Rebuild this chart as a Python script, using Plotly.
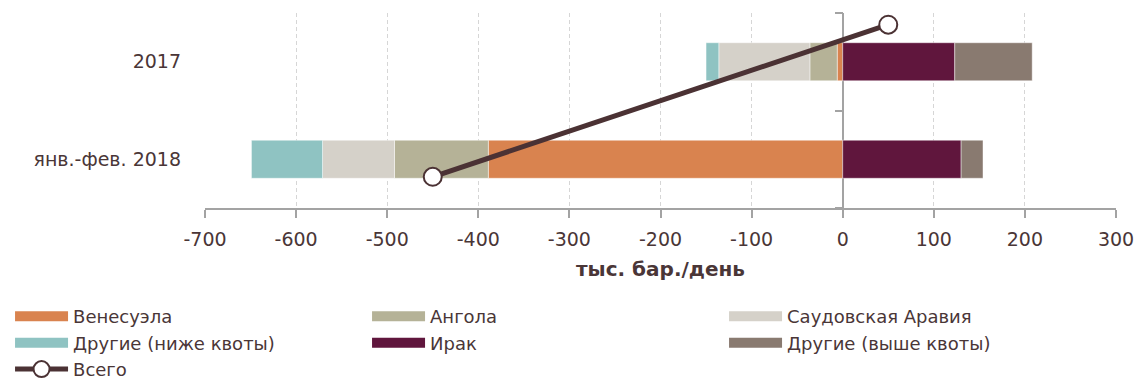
import plotly.graph_objects as go

categories = ["янв.-фев. 2018", "2017"]
series_names = ["Венесуэла", "Ангола", "Саудовская Аравия", "Другие (ниже квоты)", "Ирак", "Другие (выше квоты)"]
venezuela = [-389, -6]
angola = [-103, -30]
saudi = [-79, -100]
others_below = [-78, -14]
iraq = [130, 123]
others_above = [24, 85]
total_name = "Всего"
total_values = [-450, 50]
total_level = [0.16, 0.94]   # level of the total line on the secondary axis
x_ticks = [-700, -600, -500, -400, -300, -200, -100, 0, 100, 200, 300]

colors = ["#d9834f", "#b5b297", "#d5d1c9", "#8fc3c2", "#60163d", "#897a70"]
line_color = "#4b3234"
text_color = "#4a3637"
font_family = "DejaVu Sans, sans-serif"

series = [venezuela, angola, saudi, others_below, iraq, others_above]

fig = go.Figure()
for name, vals, col in zip(series_names, series, colors):
    fig.add_trace(go.Bar(
        y=categories, x=vals, orientation="h", name=name,
        marker=dict(color=col, line=dict(color="rgba(255,255,255,0.55)", width=0.8)),
        width=0.39, showlegend=False, legendgroup=name,
    ))
    # legend swatch
    fig.add_trace(go.Scatter(
        x=[None], y=[None], mode="lines", name=name, legendgroup=name,
        line=dict(color=col, width=14), showlegend=True,
    ))

fig.add_trace(go.Scatter(
    x=total_values, y=total_level, yaxis="y2", mode="lines+markers", name=total_name,
    line=dict(color=line_color, width=5),
    marker=dict(size=18, color="white", line=dict(color=line_color, width=2)),
))

# helper trace for the zero axis with category ticks
fig.add_trace(go.Scatter(x=[None, None], y=categories, yaxis="y3", mode="markers",
                         showlegend=False, hoverinfo="skip"))

fig.update_layout(
    width=1143, height=382,
    margin=dict(l=205, r=27, t=13, b=174, autoexpand=False),
    plot_bgcolor="white", paper_bgcolor="white",
    barmode="relative",
    font=dict(family=font_family, size=19, color=text_color),
    xaxis=dict(
        range=[-700, 300], tickvals=x_ticks, ticktext=[str(v) for v in x_ticks],
        showgrid=True, gridcolor="#d6d6d6", griddash="4px,3px", gridwidth=1,
        zeroline=True, zerolinecolor="#a3a3a3", zerolinewidth=2,
        showline=True, linecolor="#a3a3a3", linewidth=2,
        ticks="outside", ticklen=8, tickcolor="#a3a3a3", tickwidth=2,
        ticklabelstandoff=5, automargin=False,
        tickfont=dict(size=19, color=text_color),
        title=dict(text="<b>тыс. бар./день</b>", font=dict(size=20, color=text_color), standoff=13),
        fixedrange=True,
    ),
    yaxis=dict(
        type="category", categoryorder="array", categoryarray=categories,
        range=[-0.5, 1.5], automargin=False,
        showline=False, showgrid=False, zeroline=False, ticks="",
        ticklabelstandoff=23, tickfont=dict(size=19, color=text_color),
    ),
    yaxis2=dict(overlaying="y", range=[0, 1], visible=False),
    yaxis3=dict(
        overlaying="y", anchor="free", position=0.7, side="left",
        type="category", categoryorder="array", categoryarray=categories,
        range=[-0.5, 1.5], showline=False, showgrid=False, zeroline=False,
        ticks="outside", tickson="boundaries", ticklen=8, tickcolor="#a3a3a3", tickwidth=2,
        showticklabels=False, automargin=False,
    ),
    legend=dict(
        orientation="h", x=-0.214, xanchor="left",
        y=-0.462, yanchor="top",
        entrywidth=289, entrywidthmode="pixels", tracegroupgap=0,
        font=dict(size=18, color=text_color), itemwidth=53,
        bgcolor="rgba(0,0,0,0)",
    ),
    showlegend=True,
)

fig.write_html("out.html")
